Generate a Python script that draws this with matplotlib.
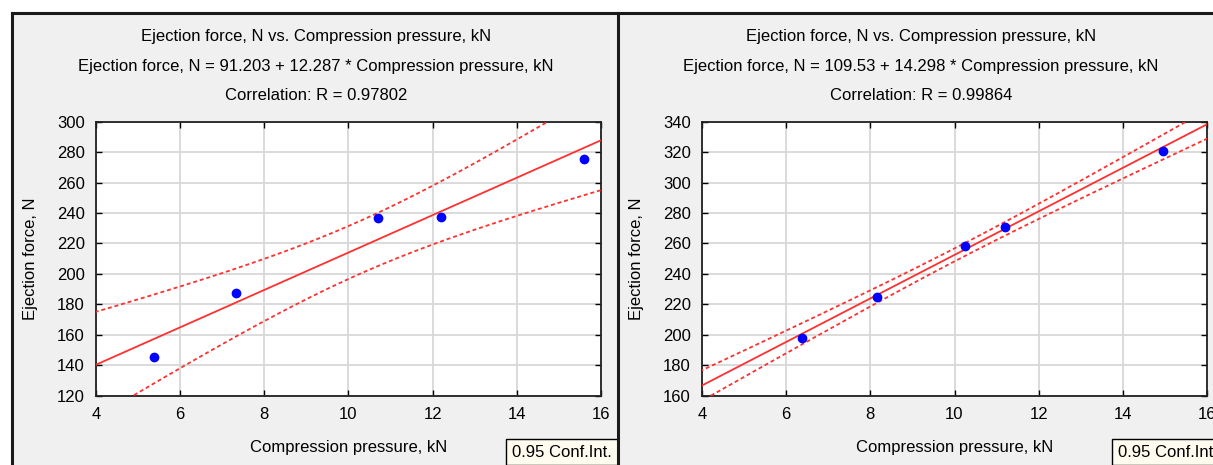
import numpy as np
import matplotlib
matplotlib.use("Agg")
import matplotlib.pyplot as plt
from matplotlib.patches import Rectangle

# Compression pressure (kN) vs ejection force (N)
left_pressure = [5.39, 7.33, 10.70, 12.20, 15.59]
left_force = [145.2, 187.5, 236.5, 237.4, 275.5]
left_intercept = "91.203"
left_slope = "12.287"
left_r = "0.97802"

right_pressure = [6.38, 8.16, 10.24, 11.20, 14.96]
right_force = [197.7, 224.8, 258.3, 270.8, 320.5]
right_intercept = "109.53"
right_slope = "14.298"
right_r = "0.99864"

x_ticks = [4, 6, 8, 10, 12, 14, 16]
left_y_ticks = list(range(120, 301, 20))
right_y_ticks = list(range(160, 341, 20))

T_CRIT = 3.182  # Student t, 0.975 quantile, df = n - 2 = 3

W, H = 1213, 465
FONT = "Liberation Sans"
plt.rcParams["font.family"] = FONT


def fx(px):
    return px / W


def fy(py):
    return 1 - py / H


def draw_panel(fig, left_px, frame_cx, x, y, b0_txt, b1_txt, r, y_ticks):
    x = np.asarray(x, dtype=float)
    y = np.asarray(y, dtype=float)
    b0 = float(b0_txt)
    b1 = float(b1_txt)

    ax = fig.add_axes([fx(left_px), fy(395.7), 505 / W, 274 / H])
    ax.set_zorder(1)
    ax.set_facecolor("white")

    # regression line and 95% confidence band of the mean
    xs = np.linspace(3.5, 16.5, 200)
    fit = b0 + b1 * xs
    resid = y - (b0 + b1 * x)
    n = len(x)
    s = np.sqrt(np.sum(resid ** 2) / (n - 2))
    sxx = np.sum((x - x.mean()) ** 2)
    half = T_CRIT * s * np.sqrt(1 / n + (xs - x.mean()) ** 2 / sxx)

    ax.plot(xs, fit, color="#ff3030", lw=1.3, zorder=3)
    ax.plot(xs, fit + half, color="#ff3030", lw=1.3, ls=(0, (2.2, 1.6)), zorder=3)
    ax.plot(xs, fit - half, color="#ff3030", lw=1.3, ls=(0, (2.2, 1.6)), zorder=3)
    ax.plot(x, y, "o", color="#0000ff", ms=6, mec="#0000ff", zorder=4)

    ax.set_xlim(4, 16)
    ax.set_ylim(y_ticks[0], y_ticks[-1])
    ax.set_xticks(x_ticks)
    ax.set_yticks(y_ticks)
    ax.grid(True, color="#d8d8d8", lw=1.3)
    ax.set_axisbelow(True)
    ax.tick_params(direction="in", length=4, width=1, top=True, right=True,
                   labelsize=12, pad=8, colors="black")
    for sp in ax.spines.values():
        sp.set_linewidth(1.3)
        sp.set_color("#202020")

    ax.set_ylabel("Ejection force, N", fontsize=12)
    ax.yaxis.set_label_coords(-0.114, 0.5)
    ax.text(0.5, (395.7 - 447) / 274, "Compression pressure, kN", fontsize=12,
            ha="center", va="center", transform=ax.transAxes)

    # three-line title, centred on the panel frame
    fig.text(fx(frame_cx), fy(37), "Ejection force, N vs. Compression pressure, kN",
             ha="center", va="center", fontsize=12)
    fig.text(fx(frame_cx), fy(66),
             f"Ejection force, N = {b0_txt} + {b1_txt} * Compression pressure, kN",
             ha="center", va="center", fontsize=12)
    fig.text(fx(frame_cx), fy(95), f"Correlation: R = {r}",
             ha="center", va="center", fontsize=12)
    return ax


def main():
    fig = plt.figure(figsize=(W / 100, H / 100), dpi=100)
    fig.patch.set_facecolor("white")

    # grey window background with black frames
    fig.patches.append(Rectangle((fx(11.5), 0), 1 - fx(11.5), fy(13), transform=fig.transFigure,
                                 facecolor="#f0f0f0", edgecolor="none", zorder=0))
    fig.lines.append(plt.Line2D([fx(11.5), 1], [fy(13), fy(13)], transform=fig.transFigure,
                                color="#1a1a1a", lw=2.2, zorder=3))
    for px in (11.5, 617.5):
        fig.lines.append(plt.Line2D([fx(px), fx(px)], [0, fy(13)], transform=fig.transFigure,
                                    color="#1a1a1a", lw=2.2, zorder=3))

    draw_panel(fig, 96, 316, left_pressure, left_force, left_intercept, left_slope,
               left_r, left_y_ticks)
    draw_panel(fig, 702, 921, right_pressure, right_force, right_intercept, right_slope,
               right_r, right_y_ticks)

    # "0.95 Conf.Int." boxes at the bottom right of each panel
    for bx, bw in ((506, 112), (1112, 110)):
        fig.patches.append(Rectangle((fx(bx), 0), bw / W, fy(439), transform=fig.transFigure,
                                     facecolor="#fffbee", edgecolor="black", lw=1, zorder=2))
        fig.text(fx(bx + 6), fy(452), "0.95 Conf.Int.", ha="left", va="center",
                 fontsize=12, zorder=2.5)

    fig.savefig("out.png", dpi=100)


if __name__ == "__main__":
    main()
